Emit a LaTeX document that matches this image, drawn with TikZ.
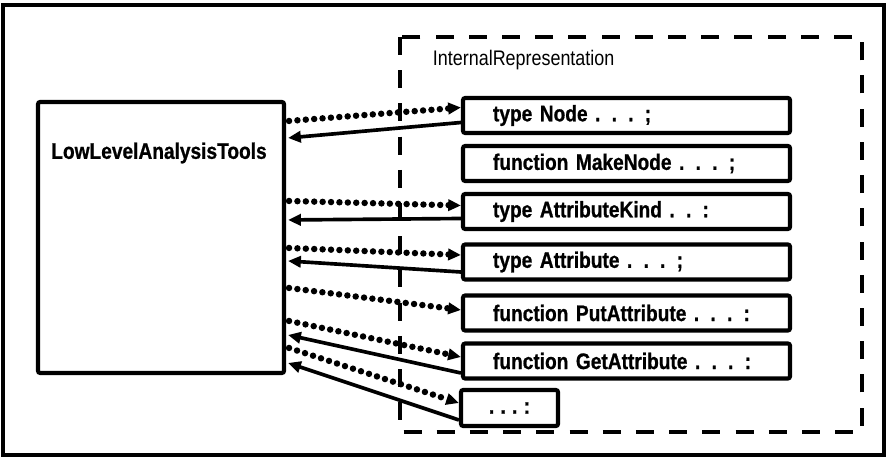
\documentclass[tikz,border=0pt]{standalone}
\usepackage{fontspec}
\setmainfont{Liberation Sans}[FakeStretch=0.85, BoldFeatures={FakeBold=0.8}]
\usetikzlibrary{arrows.meta,calc}

\tikzset{
  box/.style={draw, line width=2.9pt, rounded corners=1.5pt, inner sep=0pt,
    font={\bfseries\fontsize{16}{19}\selectfont\spaceskip=0.2em\relax}},
  declbox/.style={box, minimum height=35*0.025cm, text width=267*0.025cm,
    inner xsep=30*0.025cm, align=left},
  dotarrow/.style={line width=4.6pt, line cap=round, dash pattern=on 0pt off 0.21cm,
    -{Triangle[length=0.32cm, width=0.28cm]}},
  solidarrow/.style={line width=2.6pt, -{Triangle[length=0.32cm, width=0.28cm]}},
  groupline/.style={line width=3.2pt, dash pattern=on 0.45cm off 0.38cm}
}

\begin{document}
\begin{tikzpicture}[x=0.025cm, y=-0.025cm]
        \def \u {0.025cm}
        \useasboundingbox (0,0) rectangle (888,458);

        % frame and module boundary
        \draw[line width=2.4pt] (3,5) rectangle (884,455);
        \draw[groupline] (400,37) rectangle (862,432);
        \node[anchor=west, font=\fontsize{15}{18}\selectfont] (irname) at (428,60) {InternalRepresentation};

        % client module
        \node[box, minimum width=246*\u, minimum height=271*\u] (tools) at (161,237.5) {};
        \node[font=\bfseries\fontsize{16}{19}\selectfont] (toolsname) at (159,153) {LowLevelAnalysisTools};

        % exported declarations
        \node[declbox] (tnode) at (626.5,115.5) {type Node . . . ;};
        \node[declbox] (fmake) at (626.5,163.5) {function MakeNode . . . ;};
        \node[declbox] (tkind) at (626.5,211.5) {type AttributeKind . . :};
        \node[declbox] (tattr) at (626.5,262) {type Attribute . . . ;};
        \node[declbox] (fput) at (626.5,313) {function PutAttribute . . . :};
        \node[declbox] (fget) at (626.5,361) {function GetAttribute . . . :};
        \node[box, minimum width=97*\u, minimum height=36*\u] (more) at (509.5,408) {. . . :};

        % uses (dotted) and results (solid)
        \draw[dotarrow] ($(tools.north east)+(3,21)$) -- ($(tnode.west)+(0,-8)$);
        \draw[solidarrow] ($(tnode.west)+(0,7)$) -- ($(tools.north east)+(2,38)$);
        \draw[dotarrow] ($(tools.north east)+(3,101)$) -- ($(tkind.west)+(0,-6)$);
        \draw[solidarrow] ($(tkind.west)+(0,7)$) -- ($(tools.north east)+(2,120)$);
        \draw[dotarrow] ($(tools.north east)+(3,148)$) -- ($(tattr.west)+(0,-7)$);
        \draw[solidarrow] ($(tattr.west)+(0,10)$) -- ($(tools.north east)+(2,161)$);
        \draw[dotarrow] ($(tools.north east)+(3,188)$) -- ($(fput.west)+(0,-3)$);
        \draw[dotarrow] ($(tools.north east)+(3,221)$) -- ($(fget.west)+(0,-4)$);
        \draw[solidarrow] ($(fget.west)+(0,12)$) -- ($(tools.north east)+(2,235)$);
        \draw[dotarrow] ($(tools.north east)+(3,248)$) -- ($(more.west)+(0,-5)$);
        \draw[solidarrow] ($(more.west)+(0,12)$) -- ($(tools.north east)+(2,263)$);
      \end{tikzpicture}
\end{document}
